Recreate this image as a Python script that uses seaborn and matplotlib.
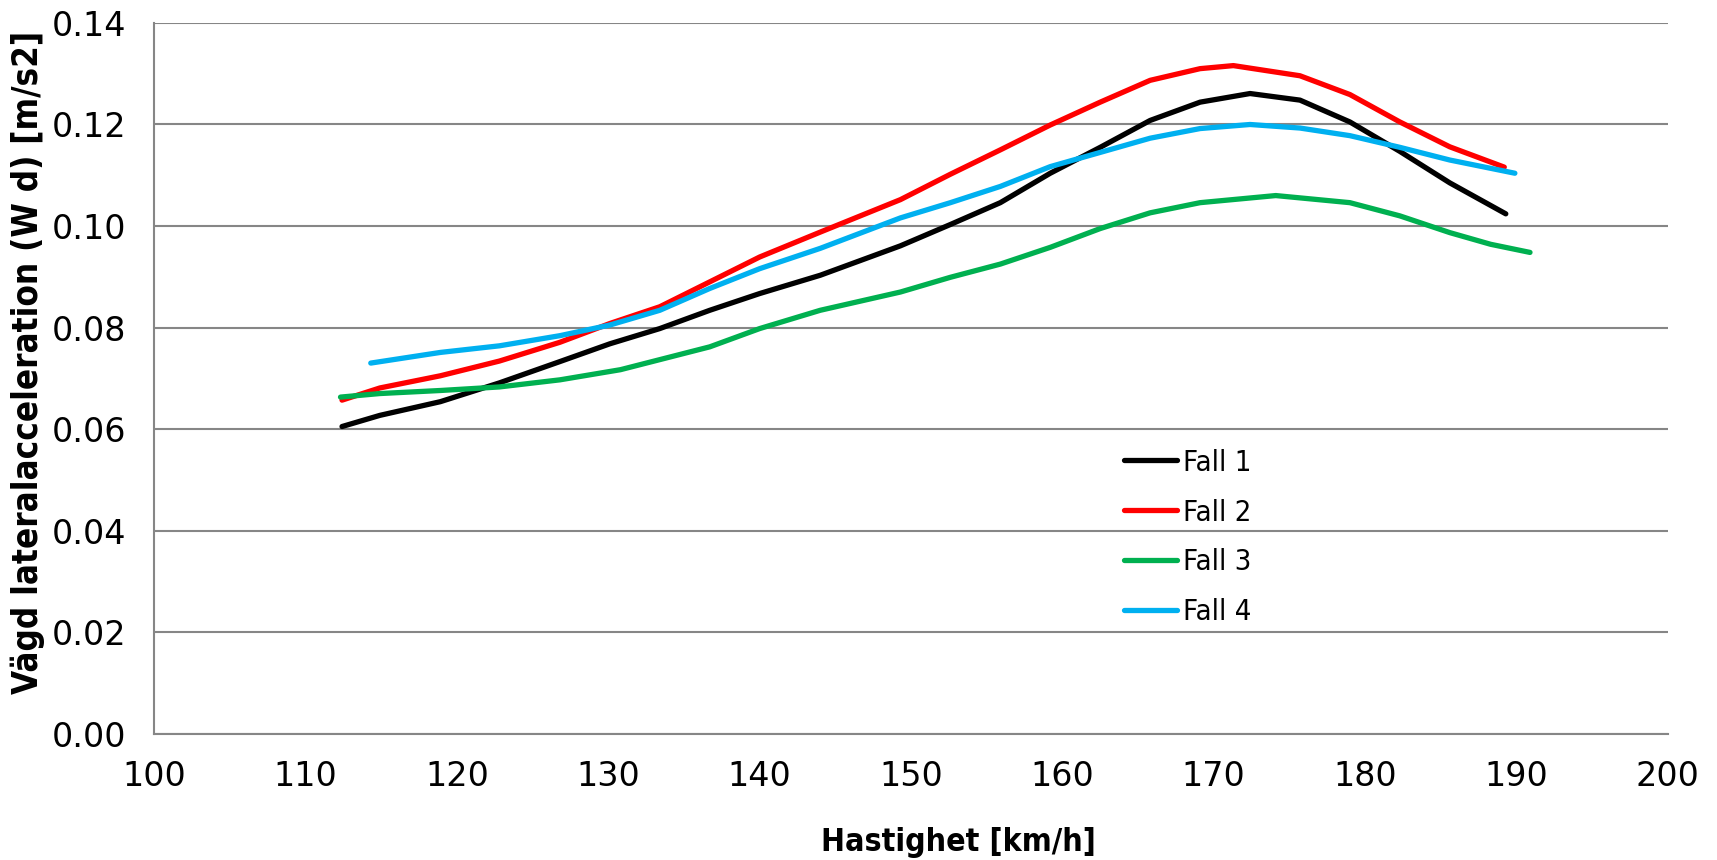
import numpy as np
import pandas as pd
import matplotlib
matplotlib.use("Agg")
import matplotlib.pyplot as plt
import seaborn as sns

# ---- data ----
fall1_x = [112.4, 114.9, 118.9, 122.8, 126.8, 130.1, 133.4, 136.7, 140.0, 144.0, 149.3, 152.6, 155.9, 159.2, 162.5, 165.8, 169.1, 172.4, 175.7, 179.0, 182.3, 185.6, 189.3]
fall1_y = [0.0605, 0.0627, 0.0654, 0.0691, 0.0733, 0.0768, 0.0798, 0.0834, 0.0867, 0.0903, 0.0961, 0.1003, 0.1046, 0.1104, 0.1155, 0.1208, 0.1244, 0.1261, 0.1248, 0.1205, 0.1147, 0.1085, 0.1024]

fall2_x = [112.4, 114.9, 118.9, 122.8, 126.8, 130.1, 133.4, 136.7, 140.0, 144.0, 149.3, 152.6, 155.9, 159.2, 162.5, 165.8, 169.1, 171.3, 175.7, 179.0, 182.3, 185.6, 189.2]
fall2_y = [0.0657, 0.0681, 0.0705, 0.0734, 0.0771, 0.0808, 0.0841, 0.0890, 0.0939, 0.0988, 0.1052, 0.1102, 0.1150, 0.1199, 0.1244, 0.1287, 0.1310, 0.1316, 0.1296, 0.1259, 0.1205, 0.1156, 0.1116]

fall3_x = [112.3, 114.9, 118.9, 122.8, 126.8, 130.8, 136.7, 140.0, 144.0, 149.3, 152.6, 155.9, 159.2, 162.5, 165.8, 169.1, 174.1, 179.0, 182.3, 185.6, 188.3, 190.9]
fall3_y = [0.0663, 0.0670, 0.0676, 0.0683, 0.0697, 0.0717, 0.0762, 0.0798, 0.0834, 0.0870, 0.0899, 0.0925, 0.0958, 0.0995, 0.1026, 0.1046, 0.1060, 0.1046, 0.1020, 0.0987, 0.0964, 0.0948]

fall4_x = [114.3, 118.9, 122.8, 126.8, 130.1, 133.4, 136.7, 140.0, 144.0, 149.3, 152.6, 155.9, 159.2, 162.5, 165.8, 169.1, 172.4, 175.7, 179.0, 182.3, 185.6, 189.9]
fall4_y = [0.0730, 0.0751, 0.0764, 0.0784, 0.0805, 0.0834, 0.0877, 0.0916, 0.0956, 0.1016, 0.1046, 0.1078, 0.1117, 0.1145, 0.1173, 0.1192, 0.1200, 0.1193, 0.1178, 0.1155, 0.1130, 0.1104]

series_names = ["Fall 1", "Fall 2", "Fall 3", "Fall 4"]
series_colors = ["#000000", "#FF0000", "#00B050", "#00B0F0"]
x_ticks = [100, 110, 120, 130, 140, 150, 160, 170, 180, 190, 200]
y_ticks = [0.00, 0.02, 0.04, 0.06, 0.08, 0.10, 0.12, 0.14]
x_label = "Hastighet [km/h]"
y_label = "Vägd lateralacceleration (W d) [m/s2]"

frames = []
for name, xs, ys in zip(series_names,
                        [fall1_x, fall2_x, fall3_x, fall4_x],
                        [fall1_y, fall2_y, fall3_y, fall4_y]):
    frames.append(pd.DataFrame({"x": xs, "y": ys, "Fall": name}))
df = pd.concat(frames, ignore_index=True)

sns.set_theme(style="white")
plt.rcParams["font.family"] = ["DejaVu Sans"]
plt.rcParams["text.color"] = "black"
plt.rcParams["axes.labelcolor"] = "black"

fig = plt.figure(figsize=(17.17, 8.6), dpi=100)
ax = fig.add_axes([0.0899, 0.1469, 0.8814, 0.8264])

sns.lineplot(data=df, x="x", y="y", hue="Fall", hue_order=series_names,
             palette=dict(zip(series_names, series_colors)),
             estimator=None, sort=False, linewidth=3.8, ax=ax)
for ln in ax.get_lines():
    ln.set_solid_capstyle("round")
    ln.set_solid_joinstyle("round")

ax.set_xlim(100, 200)
ax.set_ylim(0, 0.14)
ax.set_xticks(x_ticks)
ax.set_yticks(y_ticks)
ax.set_xticklabels([str(t) for t in x_ticks])
ax.set_yticklabels([f"{t:.2f}" for t in y_ticks])

grid_c = "#868686"
ax.yaxis.grid(True, color=grid_c, linewidth=1.5)
ax.xaxis.grid(False)
ax.set_axisbelow(True)
for s in ["top", "right"]:
    ax.spines[s].set_visible(False)
for s in ["left", "bottom"]:
    ax.spines[s].set_color(grid_c)
    ax.spines[s].set_linewidth(1.5)
ax.tick_params(axis="both", which="major", direction="out", length=9,
               width=1.3, color=grid_c, labelsize=24, labelcolor="black")
ax.tick_params(axis="x", pad=10)
ax.tick_params(axis="y", pad=11)

lab_font = ["DejaVu Sans"]
ax.set_xlabel(x_label, fontsize=23, fontweight="bold", family=lab_font,
              fontstretch="condensed", color="black")
ax.xaxis.set_label_coords(0.531, -0.131)
ax.set_ylabel(y_label, fontsize=25, fontweight="bold", family=lab_font,
              fontstretch="condensed", color="black")
ax.yaxis.set_label_coords(-0.072, 0.522)

leg = ax.legend(loc="upper left", bbox_to_anchor=(0.641, 0.401), frameon=False,
                handlelength=1.8, handletextpad=0.2,
                labelspacing=0.75, borderaxespad=0, borderpad=0,
                prop={"family": "DejaVu Sans", "stretch": "condensed", "size": 21})
for t in leg.get_texts():
    t.set_color("black")
for h in leg.get_lines():
    h.set_linewidth(3.8)
    h.set_solid_capstyle("round")

fig.savefig("out.png", dpi=100)
